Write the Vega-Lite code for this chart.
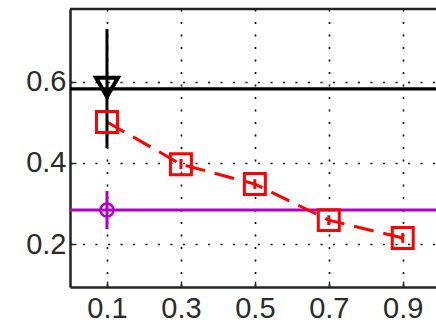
{
  "$schema": "https://vega.github.io/schema/vega-lite/v6.json",
  "width": 366,
  "height": 278,
  "autosize": {"type": "none"},
  "padding": {"left": 70, "top": 9, "right": 0, "bottom": 44},
  "background": "white",
  "config": {
    "view": {"stroke": null},
    "axis": {
      "labelFont": "Liberation Sans",
      "labelFontSize": 29,
      "labelColor": "#2a2a2a",
      "domainColor": "#222222",
      "domainWidth": 2.5,
      "tickColor": "#222222",
      "tickSize": -6,
      "tickWidth": 1.5,
      "gridColor": "#000000",
      "gridDash": [2, 10.5],
      "gridWidth": 1.6,
      "gridOpacity": 1,
      "title": null
    }
  },
  "layer": [
    {
      "data": {"values": [{"series": "A", "y": 0.583}, {"series": "B", "y": 0.284}]},
      "mark": {"type": "rule", "strokeWidth": 3.2},
      "encoding": {
        "y": {"field": "y", "type": "quantitative", "scale": {"domain": [0.094, 0.78], "nice": false, "zero": false},
          "axis": {"values": [0.2, 0.4, 0.6], "labelPadding": 10, "format": ".1f"}},
        "color": {"field": "series", "type": "nominal", "scale": {"domain": ["A", "B", "C"], "range": ["#000000", "#b100c4", "#ff0000"]}, "legend": null}
      }
    },
    {
      "data": {"values": [{"edge": "top"}]},
      "mark": {"type": "rule", "strokeWidth": 2.5, "color": "#222222"},
      "encoding": {
        "y": {"datum": 0.78, "type": "quantitative"}
      }
    },
    {
      "data": {"values": [
        {"x": 0.1, "y": 0.501},
        {"x": 0.3, "y": 0.397},
        {"x": 0.5, "y": 0.348},
        {"x": 0.7, "y": 0.259},
        {"x": 0.9, "y": 0.215}
      ]},
      "mark": {"type": "line", "color": "#ff0000", "strokeWidth": 3, "strokeDash": [20, 10]},
      "encoding": {
        "x": {"field": "x", "type": "quantitative", "scale": {"domain": [0, 0.99], "nice": false, "zero": false},
          "axis": {"values": [0.1, 0.3, 0.5, 0.7, 0.9], "labelPadding": 13, "format": ".1f"}},
        "y": {"field": "y", "type": "quantitative"}
      }
    },
    {
      "data": {"values": [
        {"series": "A", "x": 0.1, "lo": 0.437, "hi": 0.731},
        {"series": "B", "x": 0.1, "lo": 0.237, "hi": 0.331},
        {"series": "C", "x": 0.3, "lo": 0.385, "hi": 0.41},
        {"series": "C", "x": 0.5, "lo": 0.336, "hi": 0.36},
        {"series": "C", "x": 0.7, "lo": 0.247, "hi": 0.271},
        {"series": "C", "x": 0.9, "lo": 0.203, "hi": 0.227}
      ]},
      "mark": {"type": "rule", "strokeWidth": 3},
      "encoding": {
        "x": {"field": "x", "type": "quantitative"},
        "y": {"field": "lo", "type": "quantitative"},
        "y2": {"field": "hi"},
        "color": {"field": "series", "type": "nominal", "legend": null}
      }
    },
    {
      "data": {"values": [
        {"x": 0.1, "y": 0.501},
        {"x": 0.3, "y": 0.397},
        {"x": 0.5, "y": 0.348},
        {"x": 0.7, "y": 0.259},
        {"x": 0.9, "y": 0.215}
      ]},
      "mark": {"type": "point", "shape": "square", "size": 440, "filled": false, "color": "#ff0000", "strokeWidth": 3, "opacity": 1},
      "encoding": {
        "x": {"field": "x", "type": "quantitative"},
        "y": {"field": "y", "type": "quantitative"}
      }
    },
    {
      "data": {"values": [{"x": 0.1, "y": 0.587}]},
      "mark": {"type": "point", "shape": "triangle-down", "size": 480, "filled": false, "color": "#000000", "strokeWidth": 4, "opacity": 1},
      "encoding": {
        "x": {"field": "x", "type": "quantitative"},
        "y": {"field": "y", "type": "quantitative"}
      }
    },
    {
      "data": {"values": [{"x": 0.1, "y": 0.284}]},
      "mark": {"type": "point", "shape": "circle", "size": 170, "filled": false, "color": "#b100c4", "strokeWidth": 2.6, "opacity": 1},
      "encoding": {
        "x": {"field": "x", "type": "quantitative"},
        "y": {"field": "y", "type": "quantitative"}
      }
    }
  ]
}
